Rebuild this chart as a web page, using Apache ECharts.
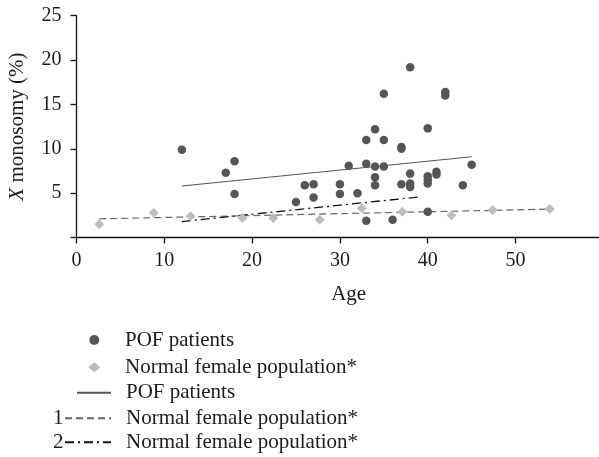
<!DOCTYPE html>
<html><head><meta charset="utf-8">
<script src="https://cdn.jsdelivr.net/npm/echarts@6/dist/echarts.min.js"></script>
<style>html,body{margin:0;padding:0;background:#fff}#c{width:599px;height:457px}</style>
</head><body><div id="c"></div>
<script>
// POF patients: [age, X monosomy %]
const pofPoints = [
  [12,9.9],[17,7.3],[18,8.6],[18,4.9],[25,4.0],[26,5.9],[27,6.0],[27,4.5],
  [30,6.0],[30,4.9],[31,8.1],[32,5.0],[33,11.0],[33,8.3],[33,1.9],
  [34,12.2],[34,8.0],[34,6.8],[34,5.9],[35,16.2],[35,11.0],[35,8.0],[36,2.0],
  [37,10.2],[37,10.0],[37,6.0],[38,19.2],[38,7.2],[38,6.1],[38,5.7],
  [40,12.3],[40,6.9],[40,6.5],[40,6.1],[40,2.9],[41,7.4],[41,7.1],
  [42,16.4],[42,16.0],[44,5.9],[45,8.2]
];
// Normal female population
const normalPoints = [
  [2.6,1.5],[8.8,2.8],[13,2.4],[18.9,2.2],[22.4,2.2],[27.7,2.0],
  [32.5,3.3],[37.1,2.9],[42.7,2.5],[47.4,3.1],[53.9,3.2]
];
// Trend lines
const pofFit = [[12,5.8],[45,9.1]];
const normalFit1 = [[2.6,2.1],[53.9,3.2]];
const normalFit2 = [[12,1.8],[39.3,4.6]];
// Axis ticks
const xTicks = [0,10,20,30,40,50];
const yTicks = [5,10,15,20,25];

const FONT = '"Liberation Serif", "Times New Roman", serif';
const TXT = '#1c1c1c';

const chart = echarts.init(document.getElementById('c'), null, {renderer:'canvas'});
const legendText = pad => ({
  fontFamily: FONT, fontSize: 21, color: TXT, lineHeight: 24, padding: [0,0,0,pad]
});
const fmt = n => n.split('|')[0];
const noSym = { color: 'rgba(0,0,0,0)', borderWidth: 0 };

chart.setOption({
  animation: false,
  textStyle: { fontFamily: FONT },
  grid: { left: 76.5, top: 15.7, height: 221.8, width: 544.4, containLabel: false, outerBoundsMode: 'none' },
  xAxis: {
    type: 'value', min: 0, max: 62, interval: 10,
    name: 'Age', nameLocation: 'middle', nameGap: 46,
    nameTextStyle: { fontFamily: FONT, fontSize: 21, color: TXT },
    axisLine: { show: true, lineStyle: { color: '#111', width: 1.3 } },
    axisTick: { show: true, length: 6, lineStyle: { color: '#111', width: 1.3 } },
    axisLabel: { fontFamily: FONT, fontSize: 20, color: TXT, margin: 13,
      formatter: v => xTicks.indexOf(v) >= 0 ? String(v) : '' },
    splitLine: { show: false }
  },
  yAxis: {
    type: 'value', min: 0, max: 25, interval: 5,
    name: '{i|X} monosomy (%)', nameLocation: 'middle', nameGap: 49, nameRotate: 90,
    nameTextStyle: { fontFamily: FONT, fontSize: 21, color: TXT,
      rich: { i: { fontFamily: FONT, fontSize: 21, color: TXT, fontStyle: 'italic' } } },
    axisLine: { show: true, lineStyle: { color: '#111', width: 1.3 } },
    axisTick: { show: true, length: 6, lineStyle: { color: '#111', width: 1.3 } },
    axisLabel: { fontFamily: FONT, fontSize: 20, color: TXT, margin: 15,
      formatter: v => yTicks.indexOf(v) >= 0 ? String(v) : '' },
    splitLine: { show: false }
  },
  legend: [
    { orient: 'vertical', left: 88.3, top: 328, padding: 0, height: 80, itemWidth: 12, itemHeight: 10, itemGap: 3.3,
      selectedMode: false, textStyle: legendText(19.7), formatter: fmt,
      data: ['POF patients', 'Normal female population*'] },
    { orient: 'vertical', left: 76, top: 380.7, padding: 0, height: 40, itemWidth: 34, itemHeight: 10, itemGap: 0,
      selectedMode: false, textStyle: legendText(10), formatter: fmt,
      data: [{ name: 'POF patients|fit', itemStyle: noSym }] },
    { orient: 'vertical', left: 64, top: 406.3, padding: 0, height: 60, itemWidth: 46, itemHeight: 10, itemGap: 0,
      selectedMode: false, textStyle: legendText(10), formatter: fmt,
      data: [{ name: 'Normal female population*|1', itemStyle: noSym },
             { name: 'Normal female population*|2', itemStyle: noSym }] }
  ],
  graphic: [
    { type: 'text', left: 53, top: 408, style: { text: '1', font: '21px "Liberation Serif"', fill: TXT } },
    { type: 'text', left: 53, top: 432, style: { text: '2', font: '21px "Liberation Serif"', fill: TXT } }
  ],
  series: [
    { name: 'POF patients|fit', type: 'line', data: pofFit, symbol: 'none', z: 2,
      lineStyle: { color: '#555', width: 1.1, type: 'solid' } },
    { name: 'Normal female population*|1', type: 'line', data: normalFit1, symbol: 'none', z: 2,
      lineStyle: { color: '#666', width: 1.2, type: [7,4] } },
    { name: 'Normal female population*|2', type: 'line', data: normalFit2, symbol: 'none', z: 2,
      lineStyle: { color: '#111', width: 1.3, type: [9,4,2,4] } },
    { name: 'POF patients', type: 'scatter', data: pofPoints, symbol: 'circle', symbolSize: 8.5, z: 3,
      itemStyle: { color: '#555', opacity: 1 } },
    { name: 'Normal female population*', type: 'scatter', data: normalPoints, symbol: 'diamond', symbolSize: 10,
      z: 3, itemStyle: { color: '#bdbdbd', opacity: 1 } }
  ]
});
</script></body></html>
